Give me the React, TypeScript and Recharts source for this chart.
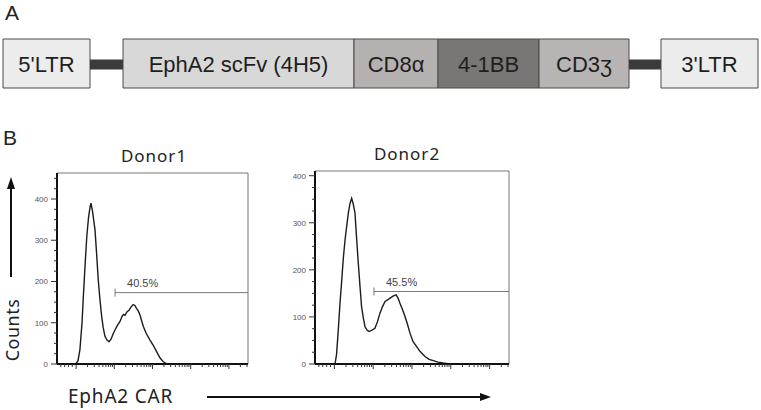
import React from "react";
import { BarChart, Bar, XAxis, YAxis, LineChart, Line, ReferenceLine } from "recharts";

// construct map (panel A), lengths along the vector
const SEGMENT_NAMES = ["", "5'LTR", "", "EphA2 scFv (4H5)", "CD8α", "4-1BB", "CD3ʒ", "", "3'LTR"];
const SEGMENT_LENGTHS = [3, 87, 33, 231, 84, 101, 90, 32, 97];
const SEGMENT_KINDS = ["gap", "box", "link", "box", "box", "box", "box", "link", "box"];

// histograms (panel B): fluorescence channel vs event count
const DONOR1_CHANNEL = [0, 99, 110, 120, 131, 138, 147, 156, 165, 173, 178, 186, 199, 207, 216, 225, 234, 242, 251, 262, 272, 283, 293, 304, 317, 330, 340, 348, 356, 366, 377, 387, 399, 408, 416, 426, 435, 443, 452, 466, 487, 503, 518, 539, 555, 576, 1000];
const DONOR1_COUNTS = [0, 0, 8, 35, 100, 164, 240, 309, 355, 380, 390, 370, 325, 270, 204, 155, 115, 88, 67, 58, 54, 60, 72, 83, 94, 103, 115, 120, 118, 126, 130, 138, 144, 142, 135, 128, 118, 105, 91, 75, 58, 46, 33, 15, 6, 0, 0];

const DONOR2_CHANNEL = [0, 103, 111, 120, 129, 138, 146, 155, 164, 172, 180, 189, 197, 206, 214, 223, 232, 240, 249, 258, 268, 278, 294, 309, 322, 335, 348, 361, 374, 387, 402, 418, 428, 438, 451, 464, 477, 490, 505, 524, 541, 567, 588, 610, 634, 661, 696, 1000];
const DONOR2_COUNTS = [0, 0, 20, 72, 130, 179, 225, 264, 295, 321, 340, 352, 340, 321, 270, 215, 165, 122, 98, 79, 72, 69, 72, 76, 90, 108, 122, 133, 136, 140, 144, 147, 140, 129, 116, 101, 84, 65, 48, 37, 27, 16, 10, 7, 4, 2, 0, 0];

const DONOR_TITLES = ["Donor1", "Donor2"];
const GATE_STARTS = [304, 304];
const GATE_LEVELS = [173, 154];
const GATE_LABELS = ["40.5%", "45.5%"];
const Y_MAX = [463, 410];

const Y_TICKS_1 = [0, 25, 50, 75, 100, 125, 150, 175, 200, 225, 250, 275, 300, 325, 350, 375, 400, 425, 450];
const Y_TICKS_2 = [0, 25, 50, 75, 100, 125, 150, 175, 200, 225, 250, 275, 300, 325, 350, 375, 400];
const Y_LABELED = [0, 100, 200, 300, 400];
const X_TICKS = [20, 40, 60, 80, 100, 160, 195, 220, 240, 256, 269, 281, 291, 300, 360, 395, 420, 440, 456, 469, 481, 491, 500, 560, 595, 620, 640, 656, 669, 681, 691, 700, 760, 795, 820, 840, 856, 869, 881, 891, 900, 960, 995];
const X_MAJOR = [100, 300, 500, 700, 900];

const SEGMENT_FILLS = ["none", "#ececec", "#3b3b3b", "#d8d8d8", "#b4b1b0", "#7a7675", "#b7b4b3", "#3b3b3b", "#ececec"];
const ARIAL = "'Liberation Sans', Arial, sans-serif";
const SANS = "'Noto Sans', 'Open Sans', sans-serif";

const constructRow: Record<string, string | number> = { name: "construct" };
SEGMENT_LENGTHS.forEach((len, i) => {
  constructRow[`s${i}`] = len;
});

const linkShape = (p: any) => (
  <rect x={p.x} y={p.y + p.height / 2 - 4} width={p.width} height={10} fill="#3b3b3b" />
);

const boxLabel = (text: string) => (p: any) => {
  const vb = p.viewBox ?? p;
  return (
    <text
      x={vb.x + vb.width / 2}
      y={vb.y + vb.height / 2 + 8}
      textAnchor="middle"
      fontSize={22}
      fontFamily={ARIAL}
      fill="#1e1e1e"
    >
      {text}
    </text>
  );
};

const yTick = (p: any) => {
  const v = p.payload.value;
  const major = Y_LABELED.includes(v);
  return (
    <g>
      <line x1={p.x - (major ? 6 : 3)} x2={p.x} y1={p.y} y2={p.y} stroke="#333" strokeWidth={1} />
      {major && (
        <text x={p.x - 9} y={p.y + 3} textAnchor="end" fontSize={8} fontFamily={ARIAL} fill="#555">
          {v}
        </text>
      )}
    </g>
  );
};

const xTick = (p: any) => {
  const major = X_MAJOR.includes(p.payload.value);
  return <line x1={p.x} x2={p.x} y1={p.y} y2={p.y + (major ? 5 : 3)} stroke="#333" strokeWidth={1} />;
};

const gateLabel = (text: string) => (p: any) => {
  const vb = p.viewBox ?? p;
  return (
    <g>
      <line x1={vb.x} x2={vb.x} y1={vb.y - 4} y2={vb.y + 4} stroke="#777" strokeWidth={1} />
      <text x={vb.x + 12} y={vb.y - 6} fontSize={11} fontFamily={ARIAL} fill="#444">
        {text}
      </text>
    </g>
  );
};

function Histogram({ idx, channel, counts, yTicks, left, top, yWidth, rightMargin, xHeight }: any) {
  const data = channel.map((ch: number, i: number) => ({ ch, count: counts[i] }));
  return (
    <div style={{ position: "absolute", left, top }}>
      <LineChart width={260} height={215} data={data} margin={{ top: 8, right: rightMargin, bottom: 0, left: 0 }}>
        <XAxis
          dataKey="ch"
          type="number"
          domain={[0, 1000]}
          allowDataOverflow
          ticks={X_TICKS}
          interval={0}
          height={xHeight}
          tickSize={0}
          tickMargin={0}
          tick={xTick}
          axisLine={{ stroke: "#111", strokeWidth: 2 }}
        />
        <YAxis
          type="number"
          domain={[0, Y_MAX[idx]]}
          allowDataOverflow
          ticks={yTicks}
          interval={0}
          width={yWidth}
          tickSize={0}
          tickMargin={0}
          tick={yTick}
          axisLine={{ stroke: "#111", strokeWidth: 2 }}
        />
        <ReferenceLine y={Y_MAX[idx]} stroke="#777" strokeWidth={1} />
        <ReferenceLine x={1000} stroke="#777" strokeWidth={1} />
        <ReferenceLine
          segment={[
            { x: GATE_STARTS[idx], y: GATE_LEVELS[idx] },
            { x: 1000, y: GATE_LEVELS[idx] },
          ]}
          stroke="#777"
          strokeWidth={1}
          label={gateLabel(GATE_LABELS[idx])}
        />
        <Line
          type="linear"
          dataKey="count"
          stroke="#1c1c1c"
          strokeWidth={1.4}
          dot={false}
          isAnimationActive={false}
        />
      </LineChart>
    </div>
  );
}

export default function App() {
  return (
    <div style={{ position: "absolute", left: 0, top: 0, width: 761, height: 410, background: "#fff", overflow: "hidden" }}>
      <svg width={761} height={410} style={{ position: "absolute", left: 0, top: 0 }}>
        <text x={5} y={20} fontSize={21} fontFamily={ARIAL} fill="#222">A</text>
        <text x={3} y={145} fontSize={21} fontFamily={ARIAL} fill="#222">B</text>
        <text x={154} y={162} textAnchor="middle" fontSize={17} letterSpacing={1} fontFamily={SANS} fill="#222">
          {DONOR_TITLES[0]}
        </text>
        <text x={407} y={160} textAnchor="middle" fontSize={17} letterSpacing={1} fontFamily={SANS} fill="#222">
          {DONOR_TITLES[1]}
        </text>
        <line x1={11} x2={11} y1={277} y2={186} stroke="#111" strokeWidth={2} />
        <polygon points="11,177 7,189 15,189" fill="#111" />
        <text transform="translate(19,330) rotate(-90)" textAnchor="middle" fontSize={18} letterSpacing={0.5} fontFamily={SANS} fill="#222">
          Counts
        </text>
        <text x={68} y={403} fontSize={19} letterSpacing={0.8} fontFamily={SANS} fill="#222">EphA2 CAR</text>
        <line x1={207} x2={482} y1={397} y2={397} stroke="#111" strokeWidth={2} />
        <polygon points="491,397 480,393 480,401" fill="#111" />
      </svg>

      <div style={{ position: "absolute", left: 0, top: 0 }}>
        <BarChart
          width={761}
          height={127}
          layout="vertical"
          data={[constructRow]}
          margin={{ top: 0, right: 0, bottom: 0, left: 0 }}
          barCategoryGap={0}
          barSize={49}
        >
          <XAxis type="number" hide domain={[0, 761]} />
          <YAxis type="category" dataKey="name" hide />
          {SEGMENT_LENGTHS.map((_, i) => {
            const kind = SEGMENT_KINDS[i];
            if (kind === "link") {
              return <Bar key={i} dataKey={`s${i}`} stackId="c" shape={linkShape} isAnimationActive={false} />;
            }
            if (kind === "gap") {
              return <Bar key={i} dataKey={`s${i}`} stackId="c" fill="none" isAnimationActive={false} />;
            }
            return (
              <Bar
                key={i}
                dataKey={`s${i}`}
                stackId="c"
                fill={SEGMENT_FILLS[i]}
                stroke="#4a4a4a"
                strokeWidth={1}
                label={boxLabel(SEGMENT_NAMES[i])}
                isAnimationActive={false}
              />
            );
          })}
        </BarChart>
      </div>

      <Histogram idx={0} channel={DONOR1_CHANNEL} counts={DONOR1_COUNTS} yTicks={Y_TICKS_1} left={0} top={165} yWidth={57} rightMargin={12} xHeight={16} />
      <Histogram idx={1} channel={DONOR2_CHANNEL} counts={DONOR2_COUNTS} yTicks={Y_TICKS_2} left={260} top={163} yWidth={55} rightMargin={11} xHeight={14} />
    </div>
  );
}
